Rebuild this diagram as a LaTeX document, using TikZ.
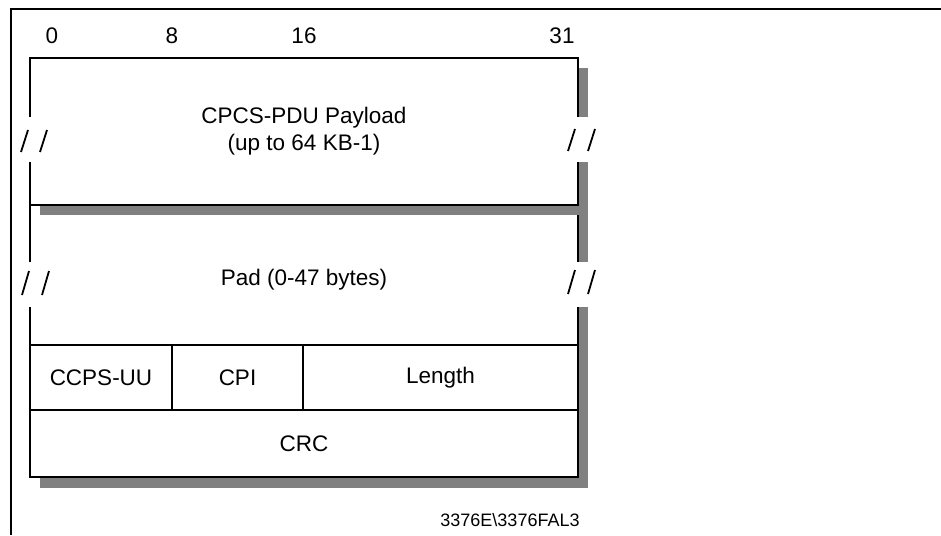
\documentclass[tikz,border=0pt]{standalone}
\usepackage{fontspec}
\setmainfont{Liberation Sans}
\usetikzlibrary{positioning}

\begin{document}
\begin{tikzpicture}[
    x=1pt, y=-1pt,
    field/.style={draw, line width=1.5pt, fill=white, inner sep=0pt, outer sep=0pt, align=center, font=\fontsize{22.5}{27}\selectfont},
    txt/.style={inner sep=0pt, align=center, font=\fontsize{22.5}{27}\selectfont},
    shade/.style={fill=black!50},
    gap/.style={fill=white},
    brk/.style={line width=1.8pt},
    frame/.style={line width=2pt}
]
    \useasboundingbox (0,0) rectangle (941,535);
    \draw[frame] (941,9) -- (11,9) -- (11,535);

    % bit numbers
    \node[txt] (b0) at (52,36) {0};
    \node[txt] (b8) at (172,36) {8};
    \node[txt] (b16) at (304,36) {16};
    \node[txt] (b31) at (562,36) {31};

    % lower block: pad and trailer
    \fill[shade] (40,215) rectangle (588,488);
    \node[field, anchor=north west, minimum width=548pt, minimum height=140pt] (pad) at (30,205) {};
    \node[txt] (padtext) at (304,280) {Pad (0-47 bytes)};

    \node[field, anchor=north west, minimum width=142pt, minimum height=65pt] (uu) at (30,345) {CCPS-UU};
    \node[field, right=0pt of uu, minimum width=131pt, minimum height=65pt] (cpi) {CPI};
    \node[field, right=0pt of cpi, minimum width=275pt, minimum height=65pt] (len) {Length};
    \node[field, below=0pt of uu.south west, anchor=north west, minimum width=548pt, minimum height=67pt] (crc) {CRC};

    % upper block: payload
    \fill[shade] (40,68) rectangle (588,215);
    \node[field, anchor=north west, minimum width=548pt, minimum height=147pt] (payload) at (30,58) {CPCS-PDU Payload\\(up to 64 KB-1)};

    % breaks
    \fill[gap] (24,117) rectangle (36,162);
    \fill[gap] (571,117) rectangle (592,162);
    \fill[gap] (24,262) rectangle (36,307);
    \fill[gap] (571,262) rectangle (592,307);
    \draw[brk] (21,152) -- (28,130) (40,152) -- (47,130);
    \draw[brk] (568,151) -- (575,129) (588,151) -- (595,129);
    \draw[brk] (22,295) -- (29,271) (42,295) -- (49,271);
    \draw[brk] (568,294) -- (575,270) (588,294) -- (595,270);

    \node[txt, font=\fontsize{18}{22}\selectfont] (fig) at (510,520) {3376E\textbackslash 3376FAL3};
\end{tikzpicture}
\end{document}
